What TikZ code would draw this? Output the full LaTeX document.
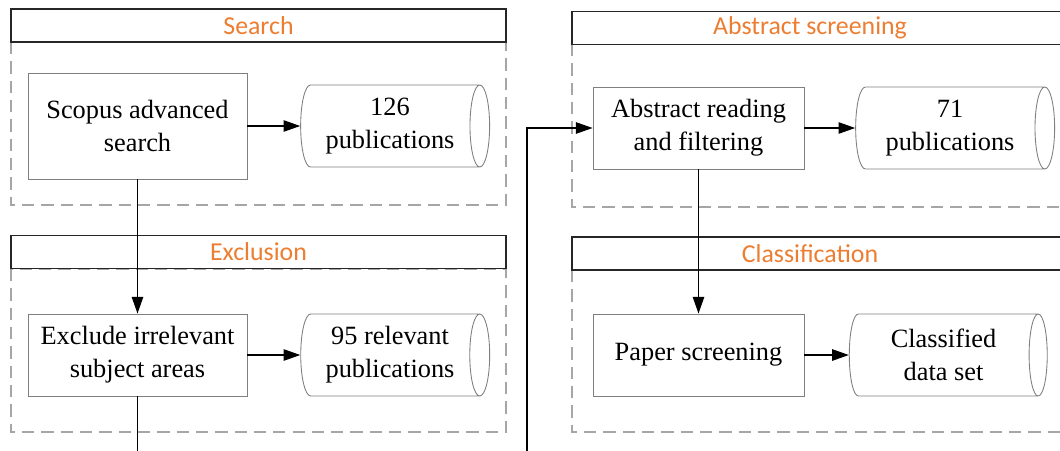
\documentclass[tikz,border=0pt]{standalone}
\usepackage{fontspec}
\setmainfont{Liberation Serif}
\newfontfamily\hdrfont{Carlito}
\usetikzlibrary{arrows.meta,shapes.geometric}
\definecolor{phase}{HTML}{ED7D31}
\definecolor{frame}{HTML}{A6A6A6}
\definecolor{edge}{HTML}{7F7F7F}

\begin{document}
\begin{tikzpicture}[x=0.02cm, y=-0.02cm, >={Triangle[length=9.5pt,width=6.5pt]},
  stepbox/.style={draw=edge, line width=0.5pt, rectangle, align=center, inner sep=0pt, font=\fontsize{15}{18.8}\selectfont},
  store/.style={draw=edge, line width=0.5pt, cylinder, aspect=0.35, inner sep=0pt, minimum width=1.64cm, align=center, font=\fontsize{15}{18.8}\selectfont},
  phasebar/.style={draw=black!85, line width=0.8pt, fill=white, rectangle, minimum width=9.9cm, minimum height=0.66cm, inner sep=0pt},
  phasename/.style={text=phase, font=\hdrfont\fontsize{14.7}{17}\selectfont},
  lane/.style={draw=frame, line width=0.8pt, dash pattern=on 7pt off 4pt},
  flow/.style={->, line width=0.75pt}]
  \useasboundingbox (0,0) rectangle (1060,450);
  \clip (0,0) rectangle (1060,450);

  % Search
  \draw[lane] (11,42) rectangle (506,205);
  \node[phasebar] (searchbar) at (258.5,25.5) {};
  \node[phasename] (searchname) at (258.5,25.5) {Search};
  \node[stepbox, minimum width=4.38cm, minimum height=2.12cm] (scopus) at (137.5,126) {Scopus advanced\\search};
  \node[store, minimum height=3.78cm] (pubs126) at (390,126) {126\\publications};
  \draw[flow] (scopus) -- (pubs126);

  % Exclusion
  \draw[lane] (11,269) rectangle (506,432);
  \node[phasebar] (exclbar) at (258.5,252) {};
  \node[phasename] (exclname) at (258.5,252) {Exclusion};
  \node[stepbox, minimum width=4.38cm, minimum height=1.64cm] (excl) at (137.5,355) {Exclude irrelevant\\subject areas};
  \node[store, minimum height=3.78cm] (pubs95) at (390,355) {95 relevant\\publications};
  \draw[flow] (excl) -- (pubs95);

  % Abstract screening
  \draw[lane] (572,44) rectangle (1067,207);
  \node[phasebar] (absbar) at (819.5,28) {};
  \node[phasename] (absname) at (810,28) {Abstract screening};
  \node[stepbox, minimum width=4.22cm, minimum height=1.64cm] (abs) at (698.5,128) {Abstract reading\\and filtering};
  \node[store, minimum height=3.98cm] (pubs71) at (950,128) {71\\publications};
  \draw[flow] (abs) -- (pubs71);

  % Classification
  \draw[lane] (572,270) rectangle (1067,432);
  \node[phasebar] (classbar) at (819.5,253.5) {};
  \node[phasename] (classname) at (810,253.5) {Classification};
  \node[stepbox, minimum width=4.22cm, minimum height=1.64cm] (paper) at (698.5,355) {Paper screening};
  \node[store, minimum height=3.96cm] (dataset) at (943.5,355) {Classified\\data set};
  \draw[flow] (paper) -- (dataset);

  % between phases
  \coordinate (back) at (527,470);
  \draw[flow] (scopus) -- (excl);
  \draw[flow] (excl.south) |- (back) |- (abs.west);
  \draw[flow] (abs) -- (paper);
\end{tikzpicture}
\end{document}
